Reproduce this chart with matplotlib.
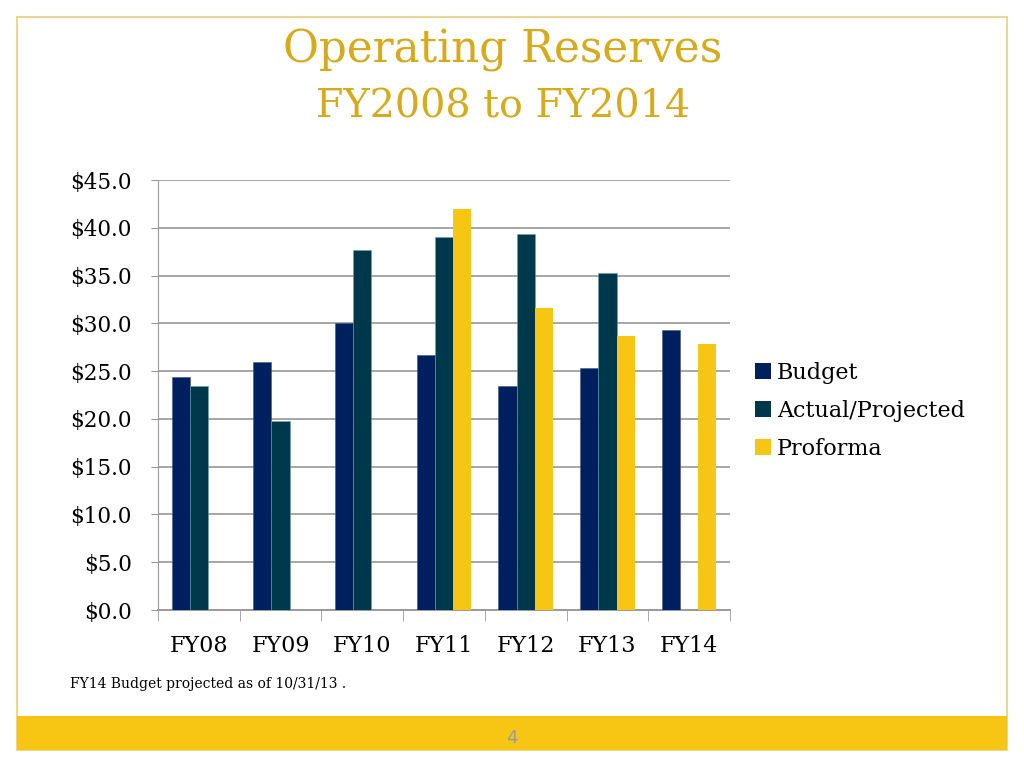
import numpy as np
import matplotlib
matplotlib.use("Agg")
import matplotlib.pyplot as plt
from matplotlib.patches import Rectangle, Patch

# chart data ($ millions)
years = ["FY08", "FY09", "FY10", "FY11", "FY12", "FY13", "FY14"]
budget = [24.4, 26.0, 30.0, 26.7, 23.4, 25.3, 29.3]
actual = [23.4, 19.8, 37.7, 39.0, 39.4, 35.3, np.nan]
proforma = [np.nan, np.nan, np.nan, 42.0, 31.6, 28.7, 27.8]
series_names = ["Budget", "Actual/Projected", "Proforma"]
yticks = [0, 5, 10, 15, 20, 25, 30, 35, 40, 45]

navy = "#001f5e"
teal = "#00384b"
gold = "#f7c614"
title_gold = "#d6aa1a"

plt.rcParams["font.family"] = ["DejaVu Serif"]

fig = plt.figure(figsize=(10.24, 7.68), dpi=100)

# slide frame and footer band
fig.patches.append(Rectangle((17 / 1024, 1 - 750 / 768), 990 / 1024, 733 / 768,
                             transform=fig.transFigure, fill=False,
                             edgecolor="#e8cf7a", linewidth=1.2))
fig.patches.append(Rectangle((17 / 1024, 1 - 750 / 768), 990 / 1024, 34 / 768,
                             transform=fig.transFigure, facecolor=gold,
                             edgecolor="none"))
fig.text(0.5, 1 - 738 / 768, "4", ha="center", va="center", fontsize=13,
         color="#9a9a9a", family="DejaVu Sans")

fig.text(0.491, 1 - 50 / 768, "Operating Reserves", ha="center", va="center",
         fontsize=31.5, color=title_gold)
fig.text(0.491, 1 - 107 / 768, "FY2008 to FY2014", ha="center", va="center",
         fontsize=28.5, color=title_gold)

ax = fig.add_axes([158 / 1024, 1 - 610 / 768, 572 / 1024, 430 / 768])
x = np.arange(len(years))
w = 1 / 4.5
ax.bar(x - w, budget, w, color=navy, edgecolor="#3a5a8a", linewidth=0.4, zorder=3)
ax.bar(x, actual, w, color=teal, edgecolor="#6fa0b8", linewidth=0.4, zorder=3)
ax.bar(x + w, proforma, w, color=gold, edgecolor="none", zorder=3)

ax.set_xlim(-0.5, len(years) - 0.5)
ax.set_ylim(0, 45)
ax.set_yticks(yticks)
ax.set_yticklabels(["${:.1f}".format(v) for v in yticks], fontsize=15.5)
ax.set_xticks(x)
ax.set_xticklabels(years, fontsize=16)
ax.set_xticks(np.arange(-0.5, len(years), 1), minor=True)
ax.tick_params(axis="x", which="major", length=0, pad=18)
ax.tick_params(axis="x", which="minor", length=8, color="#9a9a9a")
ax.tick_params(axis="y", length=5, color="#9a9a9a", pad=14)
ax.grid(axis="y", color="#a6a6a6", linewidth=1.4, zorder=0)
for s in ["top", "right"]:
    ax.spines[s].set_visible(False)
ax.spines["left"].set_color("#9a9a9a")
ax.spines["bottom"].set_color("#9a9a9a")
ax.spines["bottom"].set_linewidth(1.4)

handles = [Patch(facecolor=c) for c in (navy, teal, gold)]
fig.legend(handles, series_names, loc="center left",
           bbox_to_anchor=(735 / 1024, 1 - 411 / 768), frameon=False,
           fontsize=16, handlelength=0.7, handleheight=0.7,
           handletextpad=0.3, labelspacing=0.72)

fig.text(70 / 1024, 1 - 684 / 768, "FY14 Budget projected as of 10/31/13 .",
         ha="left", va="center", fontsize=10)

fig.savefig("out.png", dpi=100)
